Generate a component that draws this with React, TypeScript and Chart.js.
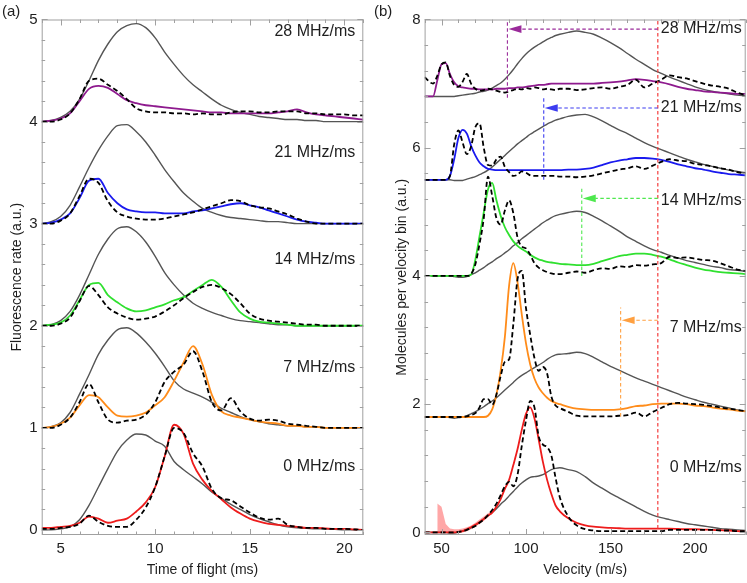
import { useEffect, useRef } from "react";
import { Chart, registerables } from "chart.js";

Chart.register(...registerables);

const FONT = "'Liberation Sans', Arial, Helvetica, sans-serif";
Chart.defaults.font.family = FONT;

// ---- panel (a): time of flight ----
const TOF = [4, 4.5, 5, 5.5, 6, 6.5, 7, 7.5, 8, 8.5, 9, 9.5, 10, 10.5, 11, 11.5, 12, 12.5, 13, 13.5, 14, 14.5, 15, 15.5, 16, 16.5, 17, 17.5, 18, 18.5, 19, 19.5, 20, 20.5, 21];

const TOF_GRAY_0 = [0, 0, 0.01, 0.03, 0.1, 0.24, 0.42, 0.6, 0.77, 0.88, 0.94, 0.93, 0.87, 0.82, 0.67, 0.59, 0.52, 0.45, 0.37, 0.31, 0.25, 0.2, 0.15, 0.11, 0.08, 0.05, 0.03, 0.02, 0.015, 0.01, 0.01, 0.005, 0, 0, 0];
const TOF_RED_0 = [0.02, 0.02, 0.03, 0.04, 0.07, 0.13, 0.11, 0.07, 0.09, 0.11, 0.18, 0.27, 0.42, 0.72, 1.03, 0.94, 0.65, 0.49, 0.38, 0.3, 0.22, 0.16, 0.11, 0.08, 0.06, 0.05, 0.04, 0.03, 0.02, 0.02, 0.015, 0.01, 0.01, 0.005, 0];
const TOF_SIM_0 = [0.01, 0.01, 0.02, 0.03, 0.06, 0.14, 0.08, 0.04, 0.03, 0.03, 0.1, 0.22, 0.42, 0.72, 1.0, 0.95, 0.75, 0.62, 0.4, 0.31, 0.29, 0.23, 0.17, 0.12, 0.1, 0.11, 0.05, 0.03, 0.02, 0.02, 0.01, 0.01, 0.01, 0.005, 0];

const TOF_GRAY_7 = [1.0, 1.01, 1.05, 1.15, 1.33, 1.52, 1.72, 1.86, 1.96, 1.98, 1.93, 1.84, 1.73, 1.6, 1.46, 1.38, 1.34, 1.3, 1.25, 1.19, 1.15, 1.11, 1.08, 1.06, 1.04, 1.03, 1.02, 1.02, 1.01, 1.01, 1.0, 1.0, 1.0, 1.0, 1.0];
const TOF_ORANGE_7 = [1.0, 1.01, 1.04, 1.1, 1.22, 1.32, 1.3, 1.2, 1.12, 1.11, 1.12, 1.15, 1.22, 1.3, 1.46, 1.64, 1.8, 1.62, 1.32, 1.16, 1.12, 1.1, 1.08, 1.06, 1.05, 1.04, 1.02, 1.02, 1.01, 1.01, 1.0, 1.0, 1.0, 1.0, 1.0];
const TOF_SIM_7 = [1.0, 1.0, 1.03, 1.1, 1.25, 1.43, 1.25, 1.08, 1.05, 1.07, 1.08, 1.13, 1.25, 1.45, 1.55, 1.62, 1.75, 1.55, 1.25, 1.17, 1.29, 1.16, 1.09, 1.07, 1.08, 1.07, 1.04, 1.03, 1.02, 1.01, 1.0, 1.0, 1.0, 1.0, 1.0];

const TOF_GRAY_14 = [2.0, 2.01, 2.05, 2.14, 2.3, 2.5, 2.7, 2.85, 2.95, 2.97, 2.92, 2.82, 2.68, 2.52, 2.4, 2.3, 2.22, 2.17, 2.13, 2.1, 2.07, 2.05, 2.04, 2.03, 2.02, 2.01, 2.01, 2.0, 2.0, 2.0, 2.0, 2.0, 2.0, 2.0, 2.0];
const TOF_GREEN_14 = [2.0, 2.01, 2.03, 2.1, 2.25, 2.4, 2.42, 2.3, 2.23, 2.17, 2.14, 2.15, 2.18, 2.21, 2.25, 2.28, 2.34, 2.4, 2.45, 2.38, 2.25, 2.13, 2.07, 2.04, 2.03, 2.02, 2.01, 2.0, 2.0, 2.0, 2.0, 2.0, 2.0, 2.0, 2.0];
const TOF_SIM_14 = [2.0, 2.0, 2.02, 2.08, 2.24, 2.39, 2.3, 2.18, 2.12, 2.08, 2.06, 2.07, 2.09, 2.14, 2.2, 2.27, 2.33, 2.38, 2.4, 2.37, 2.31, 2.22, 2.12, 2.07, 2.05, 2.04, 2.03, 2.02, 2.01, 2.01, 2.0, 2.0, 2.0, 2.0, 2.0];

const TOF_GRAY_21 = [3.0, 3.02, 3.07, 3.18, 3.36, 3.55, 3.72, 3.86, 3.96, 3.97, 3.9, 3.8, 3.67, 3.53, 3.41, 3.3, 3.22, 3.15, 3.11, 3.08, 3.06, 3.05, 3.04, 3.03, 3.02, 3.02, 3.01, 3.0, 3.0, 3.0, 3.0, 3.0, 3.0, 3.0, 3.0];
const TOF_BLUE_21 = [3.0, 3.01, 3.04, 3.1, 3.25, 3.42, 3.44, 3.3, 3.2, 3.14, 3.12, 3.11, 3.11, 3.1, 3.1, 3.1, 3.12, 3.13, 3.15, 3.17, 3.19, 3.2, 3.18, 3.16, 3.13, 3.1, 3.07, 3.04, 3.02, 3.01, 3.0, 3.0, 3.0, 3.0, 3.0];
const TOF_SIM_21 = [3.0, 3.0, 3.03, 3.1, 3.27, 3.44, 3.4, 3.22, 3.11, 3.07, 3.05, 3.04, 3.04, 3.05, 3.07, 3.09, 3.11, 3.14, 3.17, 3.2, 3.23, 3.22, 3.18, 3.16, 3.15, 3.12, 3.09, 3.05, 3.02, 3.0, 3.0, 3.0, 3.0, 3.0, 3.0];

const TOF_GRAY_28 = [4.0, 4.01, 4.04, 4.1, 4.22, 4.4, 4.6, 4.76, 4.88, 4.94, 4.96, 4.92, 4.82, 4.68, 4.56, 4.45, 4.36, 4.29, 4.22, 4.16, 4.12, 4.09, 4.07, 4.05, 4.04, 4.03, 4.02, 4.02, 4.01, 4.01, 4.0, 4.0, 4.0, 4.0, 4.0];
const TOF_PURPLE_28 = [4.0, 4.01, 4.03, 4.08, 4.2, 4.32, 4.35, 4.33, 4.27, 4.21, 4.18, 4.16, 4.15, 4.14, 4.13, 4.12, 4.11, 4.1, 4.09, 4.09, 4.08, 4.08, 4.08, 4.08, 4.08, 4.09, 4.1, 4.12, 4.09, 4.07, 4.06, 4.05, 4.04, 4.03, 4.02];
const TOF_SIM_28 = [4.0, 4.0, 4.02, 4.08, 4.22, 4.4, 4.42, 4.36, 4.3, 4.22, 4.13, 4.1, 4.09, 4.09, 4.08, 4.08, 4.07, 4.08, 4.07, 4.07, 4.09, 4.1, 4.1, 4.09, 4.09, 4.1, 4.1, 4.1, 4.08, 4.08, 4.07, 4.07, 4.07, 4.06, 4.06];

const TOF_TICKS = [5, 10, 15, 20];
const RATE_TICKS = [0, 1, 2, 3, 4, 5];

// ---- panel (b): velocity ----
const VEL = [40, 45, 47.5, 50, 52.5, 55, 57.5, 60, 62.5, 65, 67.5, 70, 72.5, 75, 77.5, 80, 82.5, 85, 87.5, 90, 92.5, 95, 97.5, 100, 102.5, 105, 107.5, 110, 112.5, 115, 117.5, 120, 125, 130, 135, 140, 145, 150, 155, 160, 165, 170, 175, 180, 185, 190, 195, 200, 205, 210, 215, 220, 225, 230];

const VEL_GRAY_0 = [0, 0, 0, 0, 0, -0.01, -0.01, 0, 0.02, 0.04, 0.07, 0.11, 0.16, 0.21, 0.26, 0.31, 0.37, 0.44, 0.5, 0.57, 0.64, 0.71, 0.77, 0.82, 0.86, 0.87, 0.88, 0.9, 0.94, 0.98, 1.0, 1.01, 0.98, 0.95, 0.87, 0.77, 0.69, 0.61, 0.54, 0.47, 0.4, 0.33, 0.27, 0.23, 0.2, 0.17, 0.14, 0.12, 0.1, 0.08, 0.06, 0.05, 0.04, 0.03];
const VEL_RED_0 = [0, 0, 0, 0, 0, 0, 0, 0.01, 0.02, 0.05, 0.08, 0.12, 0.16, 0.21, 0.26, 0.31, 0.4, 0.52, 0.68, 0.82, 1.05, 1.3, 1.6, 1.85, 1.95, 1.78, 1.45, 1.1, 0.82, 0.6, 0.42, 0.33, 0.22, 0.15, 0.11, 0.09, 0.08, 0.07, 0.065, 0.06, 0.06, 0.06, 0.06, 0.06, 0.06, 0.055, 0.05, 0.05, 0.045, 0.04, 0.035, 0.03, 0.02, 0.015];
const VEL_SIM_0 = [0, 0, 0, 0, 0, 0, 0, 0.01, 0.02, 0.04, 0.07, 0.1, 0.15, 0.2, 0.27, 0.35, 0.45, 0.58, 0.72, 0.79, 0.72, 0.9, 1.35, 1.75, 2.05, 1.95, 1.5, 1.37, 1.33, 1.2, 0.85, 0.55, 0.25, 0.11, 0.05, 0.03, 0.02, 0.02, 0.02, 0.02, 0.02, 0.02, 0.02, 0.02, 0.04, 0.04, 0.04, 0.04, 0.04, 0.04, 0.03, 0.03, 0.02, 0.02];

const VEL_GRAY_7 = [1.8, 1.8, 1.8, 1.8, 1.8, 1.79, 1.78, 1.79, 1.8, 1.82, 1.85, 1.88, 1.92, 1.96, 2.01, 2.05, 2.1, 2.16, 2.22, 2.28, 2.34, 2.4, 2.45, 2.49, 2.53, 2.57, 2.61, 2.65, 2.7, 2.74, 2.77, 2.78, 2.79, 2.81, 2.79, 2.73, 2.66, 2.59, 2.53, 2.47, 2.41, 2.36, 2.31, 2.26, 2.21, 2.16, 2.11, 2.07, 2.03, 2.0, 1.97, 1.94, 1.91, 1.89];
const VEL_ORANGE_7 = [1.8, 1.8, 1.8, 1.8, 1.8, 1.8, 1.8, 1.8, 1.8, 1.8, 1.8, 1.8, 1.8, 1.8, 1.82, 1.92, 2.15, 2.52, 3.05, 3.85, 4.2, 3.9, 3.4, 2.95, 2.62, 2.4, 2.26, 2.17, 2.1, 2.05, 2.02, 2.0, 1.96, 1.93, 1.92, 1.91, 1.91, 1.91, 1.92, 1.94, 1.97, 1.98, 2.0, 2.01, 2.01, 2.01, 2.0, 1.98, 1.97, 1.95, 1.93, 1.92, 1.9, 1.89];
const VEL_SIM_7 = [1.8, 1.8, 1.8, 1.8, 1.8, 1.8, 1.8, 1.8, 1.8, 1.81, 1.83, 1.86, 1.95, 2.08, 2.08, 1.99, 2.15, 2.44, 2.66, 2.7, 3.25, 3.95, 4.08, 3.5, 3.08, 2.72, 2.52, 2.58, 2.48, 2.12, 1.98, 1.94, 1.88, 1.82, 1.81, 1.81, 1.81, 1.81, 1.82, 1.83, 1.87, 1.81, 1.88, 1.94, 2.0, 2.02, 2.01, 2.0, 1.99, 1.97, 1.95, 1.93, 1.91, 1.89];

const VEL_GRAY_14 = [4.0, 4.0, 4.0, 4.0, 4.0, 4.0, 3.99, 3.98, 3.98, 3.99, 4.02, 4.05, 4.09, 4.13, 4.18, 4.22, 4.27, 4.31, 4.36, 4.41, 4.47, 4.52, 4.58, 4.63, 4.68, 4.73, 4.78, 4.83, 4.87, 4.91, 4.94, 4.96, 4.99, 5.01, 4.99, 4.93, 4.86, 4.78, 4.7, 4.61, 4.54, 4.47, 4.41, 4.37, 4.32, 4.28, 4.24, 4.21, 4.18, 4.15, 4.13, 4.1, 4.09, 4.07];
const VEL_GREEN_14 = [4.0, 4.0, 4.0, 4.0, 4.0, 4.0, 4.0, 4.0, 4.0, 4.0, 4.02, 4.25, 4.62, 4.99, 5.35, 5.45, 5.18, 4.94, 4.76, 4.64, 4.54, 4.47, 4.42, 4.38, 4.33, 4.29, 4.26, 4.24, 4.22, 4.21, 4.2, 4.19, 4.18, 4.17, 4.17, 4.19, 4.23, 4.27, 4.31, 4.33, 4.35, 4.35, 4.33, 4.3, 4.26, 4.21, 4.17, 4.13, 4.1, 4.08, 4.06, 4.05, 4.04, 4.03];
const VEL_SIM_14 = [4.0, 4.0, 4.0, 4.0, 4.0, 4.0, 4.0, 4.0, 4.0, 4.0, 4.03, 4.18, 4.5, 4.9, 5.55, 5.25, 4.9, 4.8, 5.02, 5.18, 4.98, 4.6, 4.46, 4.43, 4.33, 4.2, 4.13, 4.09, 4.06, 4.04, 4.03, 4.03, 4.05, 4.07, 4.05, 4.09, 4.12, 4.11, 4.15, 4.14, 4.17, 4.16, 4.18, 4.2, 4.3, 4.28, 4.29, 4.27, 4.25, 4.24, 4.2, 4.15, 4.1, 4.08];

const VEL_GRAY_21 = [5.5, 5.5, 5.5, 5.5, 5.5, 5.5, 5.49, 5.49, 5.49, 5.51, 5.53, 5.55, 5.58, 5.61, 5.65, 5.7, 5.76, 5.82, 5.88, 5.94, 6.0, 6.06, 6.11, 6.16, 6.21, 6.25, 6.29, 6.33, 6.37, 6.4, 6.43, 6.45, 6.49, 6.51, 6.52, 6.48, 6.42, 6.35, 6.28, 6.22, 6.15, 6.08, 6.02, 5.97, 5.92, 5.87, 5.82, 5.78, 5.74, 5.71, 5.68, 5.65, 5.63, 5.61];
const VEL_BLUE_21 = [5.5, 5.5, 5.5, 5.5, 5.5, 5.56, 5.82, 6.15, 6.28, 6.22, 6.03, 5.88, 5.77, 5.71, 5.67, 5.66, 5.65, 5.65, 5.65, 5.65, 5.65, 5.65, 5.65, 5.65, 5.65, 5.65, 5.65, 5.65, 5.65, 5.65, 5.65, 5.65, 5.66, 5.66, 5.67, 5.69, 5.73, 5.77, 5.8, 5.82, 5.84, 5.84, 5.83, 5.81, 5.78, 5.74, 5.71, 5.68, 5.66, 5.63, 5.61, 5.59, 5.58, 5.57];
const VEL_SIM_21 = [5.5, 5.5, 5.5, 5.5, 5.5, 5.56, 6.05, 6.27, 6.08, 5.9, 6.02, 6.32, 6.38, 6.0, 5.73, 5.72, 5.82, 5.86, 5.7, 5.62, 5.56, 5.58, 5.63, 5.61, 5.57, 5.56, 5.56, 5.56, 5.56, 5.56, 5.56, 5.55, 5.55, 5.54, 5.55, 5.57, 5.6, 5.63, 5.66, 5.68, 5.71, 5.67, 5.72, 5.78, 5.82, 5.8, 5.79, 5.75, 5.73, 5.71, 5.68, 5.66, 5.62, 5.6];

const VEL_GRAY_28 = [6.8, 6.8, 6.8, 6.8, 6.8, 6.8, 6.8, 6.81, 6.82, 6.83, 6.84, 6.85, 6.87, 6.88, 6.9, 6.93, 6.97, 7.01, 7.07, 7.14, 7.22, 7.31, 7.39, 7.46, 7.52, 7.57, 7.61, 7.65, 7.69, 7.72, 7.75, 7.77, 7.8, 7.82, 7.8, 7.77, 7.71, 7.64, 7.56, 7.47, 7.38, 7.3, 7.22, 7.16, 7.1, 7.05, 7.0, 6.95, 6.91, 6.88, 6.86, 6.84, 6.82, 6.81];
const VEL_PURPLE_28 = [6.8, 6.8, 7.05, 7.3, 7.32, 7.15, 7.02, 6.96, 6.94, 6.93, 6.92, 6.92, 6.91, 6.91, 6.91, 6.91, 6.92, 6.92, 6.92, 6.93, 6.93, 6.94, 6.94, 6.95, 6.96, 6.97, 6.98, 6.98, 6.99, 7.0, 7.0, 7.0, 7.0, 7.0, 7.0, 7.0, 7.01, 7.02, 7.03, 7.05, 7.07, 7.06, 7.04, 7.02, 6.99, 6.95, 6.92, 6.9, 6.88, 6.87, 6.86, 6.85, 6.84, 6.84];
const VEL_SIM_28 = [7.1, 7.0, 7.12, 7.3, 7.33, 7.12, 6.98, 6.95, 7.03, 7.15, 7.0, 6.92, 6.89, 6.9, 6.92, 6.91, 6.89, 6.87, 6.86, 6.88, 6.9, 6.92, 6.91, 6.93, 6.92, 6.94, 6.93, 6.91, 6.92, 6.91, 6.9, 6.92, 6.92, 6.9, 6.91, 6.93, 6.94, 6.92, 6.95, 6.98, 7.06, 6.94, 7.0, 7.06, 7.13, 7.1, 7.08, 7.04, 7.0, 6.97, 6.95, 6.92, 6.86, 6.82];

// pink uncertainty band at the low-velocity end of the 0 MHz/ms curve
const BAND_VEL = [47.5, 50, 52.5, 55, 57.5, 60, 62.5, 65, 67.5, 70, 72.5, 75, 77.5, 80];
const BAND_HIGH = [0.45, 0.4, 0.13, 0.06, 0.05, 0.05, 0.06, 0.08, 0.11, 0.15, 0.2, 0.25, 0.3, 0.34];
const BAND_LOW = [0, 0, 0, 0, -0.01, -0.01, 0, 0.02, 0.05, 0.09, 0.13, 0.18, 0.24, 0.3];

// final velocity of the unslowed cut, and where each sweep moves it
const CUT_VEL = 178;
const CUT_RANGE = [0.06, 8];
const SLOWED_VEL = [89, 110.5, 133, 156];
const ARROW_LEVEL = [7.85, 6.62, 5.21, 3.31];
const MARKER_TOP = [7.96, 6.78, 5.36, 3.51];
const MARKER_BASE = [6.78, 5.5, 4.0, 1.81];

const VEL_TICKS = [50, 100, 150, 200];
const MOL_TICKS = [0, 2, 4, 6, 8];

const SWEEPS = ["28 MHz/ms", "21 MHz/ms", "14 MHz/ms", "7 MHz/ms", "0 MHz/ms"];
const LEFT_LABEL_Y = [4.88, 3.7, 2.65, 1.59, 0.62];
const RIGHT_LABEL_Y = [7.86, 6.62, 5.17, 3.2, 1.01];

const GRAY = "#555555";
const PURPLE = "#8e1a8e";
const BLUE = "#1a1aee";
const GREEN = "#2fe02f";
const ORANGE = "#ff8c1a";
const RED = "#ee1c1c";
const ARROW_COLORS = ["#9a2a9a", "#3c3cf0", "#4ee84e", "#ffa040"];
const CUT_COLOR = "#f43c3c";
const FRAME = "#a0a0a0";
const INK = "#1e1e1e";

const pts = (xs: number[], ys: number[]) => xs.map((x, i) => ({ x, y: ys[i] }));

function curve(xs: number[], ys: number[], color: string, width: number, dash: number[] = []) {
  return {
    data: pts(xs, ys),
    borderColor: color,
    borderWidth: width,
    borderDash: dash,
    pointRadius: 0,
    cubicInterpolationMode: "monotone" as const,
    fill: false,
  };
}

function framePlugin(xStep: number, yStep: number, xMajor: number[], yMajor: number[]) {
  return {
    id: "frame",
    afterDraw(chart: any) {
      const { ctx, chartArea: a } = chart;
      const x = chart.scales.x;
      const y = chart.scales.y;
      ctx.save();
      ctx.strokeStyle = FRAME;
      ctx.lineWidth = 1;
      ctx.beginPath();
      const xMin = Math.ceil(x.min / xStep) * xStep;
      for (let v = xMin; v <= x.max + 1e-9; v += xStep) {
        const major = xMajor.some((m) => Math.abs(m - v) < 1e-6);
        const len = major ? 6 : 3.5;
        const px = Math.round(x.getPixelForValue(v)) + 0.5;
        ctx.moveTo(px, a.bottom);
        ctx.lineTo(px, a.bottom - len);
        ctx.moveTo(px, a.top);
        ctx.lineTo(px, a.top + len);
      }
      const yMin = Math.ceil(y.min / yStep - 1e-9) * yStep;
      for (let v = yMin; v <= y.max + 1e-9; v += yStep) {
        const major = yMajor.some((m) => Math.abs(m - v) < 1e-6);
        const len = major ? 6 : 3.5;
        const py = Math.round(y.getPixelForValue(v)) + 0.5;
        ctx.moveTo(a.left, py);
        ctx.lineTo(a.left + len, py);
        ctx.moveTo(a.right, py);
        ctx.lineTo(a.right - len, py);
      }
      ctx.stroke();
      ctx.strokeRect(a.left + 0.5, a.top + 0.5, a.right - a.left - 1, a.bottom - a.top - 1);
      ctx.restore();
    },
  };
}

function notesPlugin(labels: string[], ys: number[], inset: number, letter: string, letterX: number) {
  return {
    id: "notes",
    afterDraw(chart: any) {
      const { ctx, chartArea: a } = chart;
      const y = chart.scales.y;
      ctx.save();
      ctx.fillStyle = INK;
      ctx.font = `16px ${FONT}`;
      ctx.textAlign = "right";
      ctx.textBaseline = "middle";
      labels.forEach((t, i) => ctx.fillText(t, a.right - inset, y.getPixelForValue(ys[i])));
      ctx.textAlign = "left";
      ctx.font = `15px ${FONT}`;
      ctx.fillText(letter, letterX, 12);
      ctx.restore();
    },
  };
}

const arrowPlugin = {
  id: "arrows",
  afterDatasetsDraw(chart: any) {
    const { ctx } = chart;
    const x = chart.scales.x;
    const y = chart.scales.y;
    ctx.save();
    SLOWED_VEL.forEach((v, i) => {
      const px = x.getPixelForValue(v) + 1;
      const py = y.getPixelForValue(ARROW_LEVEL[i]);
      ctx.fillStyle = ARROW_COLORS[i];
      ctx.beginPath();
      ctx.moveTo(px, py);
      ctx.lineTo(px + 13, py - 3.8);
      ctx.lineTo(px + 13, py + 3.8);
      ctx.closePath();
      ctx.fill();
    });
    ctx.restore();
  },
};

function axes(xMin: number, xMax: number, yMin: number, yMax: number, xTicks: number[], yTicks: number[], xTitle: string, yTitle: string, yWidth: number, yTitlePad: number) {
  const tickFont = { size: 15, family: FONT };
  const titleFont = { size: 14, family: FONT };
  return {
    x: {
      type: "linear" as const,
      min: xMin,
      max: xMax,
      grid: { display: false, drawTicks: false },
      border: { display: false },
      ticks: { font: tickFont, color: INK, padding: 5, maxRotation: 0 },
      afterBuildTicks: (s: any) => { s.ticks = xTicks.map((value) => ({ value })); },
      afterFit: (s: any) => { s.height = 48; },
      title: { display: true, text: xTitle, font: titleFont, color: INK, padding: { top: 0, bottom: 4 } },
    },
    y: {
      type: "linear" as const,
      min: yMin,
      max: yMax,
      grid: { display: false, drawTicks: false },
      border: { display: false },
      ticks: { font: tickFont, color: INK, padding: 4 },
      afterBuildTicks: (s: any) => { s.ticks = yTicks.map((value) => ({ value })); },
      afterFit: (s: any) => { s.width = yWidth; },
      title: { display: true, text: yTitle, font: titleFont, color: INK, padding: { top: yTitlePad, bottom: 0 } },
    },
  };
}

const BASE_OPTIONS = {
  animation: false as const,
  responsive: false,
  maintainAspectRatio: false,
  events: [] as any[],
  plugins: { legend: { display: false }, tooltip: { enabled: false } },
};

function tofConfig(): any {
  const solid = 1.8;
  const dash = [5, 3];
  return {
    type: "line",
    data: {
      datasets: [
        curve(TOF, TOF_SIM_28, "#000", solid, dash),
        curve(TOF, TOF_SIM_21, "#000", solid, dash),
        curve(TOF, TOF_SIM_14, "#000", solid, dash),
        curve(TOF, TOF_SIM_7, "#000", solid, dash),
        curve(TOF, TOF_SIM_0, "#000", solid, dash),
        curve(TOF, TOF_PURPLE_28, PURPLE, solid),
        curve(TOF, TOF_BLUE_21, BLUE, solid),
        curve(TOF, TOF_GREEN_14, GREEN, solid),
        curve(TOF, TOF_ORANGE_7, ORANGE, solid),
        curve(TOF, TOF_RED_0, RED, solid),
        curve(TOF, TOF_GRAY_28, GRAY, 1.4),
        curve(TOF, TOF_GRAY_21, GRAY, 1.4),
        curve(TOF, TOF_GRAY_14, GRAY, 1.4),
        curve(TOF, TOF_GRAY_7, GRAY, 1.4),
        curve(TOF, TOF_GRAY_0, GRAY, 1.4),
      ],
    },
    options: {
      ...BASE_OPTIONS,
      layout: { padding: { top: 19.5, right: 6.7, left: 0, bottom: 0 } },
      scales: axes(4, 21, -0.05, 5, TOF_TICKS, RATE_TICKS, "Time of flight (ms)", "Fluorescence rate (a.u.)", 41.7, 9),
    },
    plugins: [framePlugin(1, 0.2, TOF_TICKS, RATE_TICKS), notesPlugin(SWEEPS, LEFT_LABEL_Y, 8, "(a)", 2)],
  };
}

function velConfig(): any {
  const solid = 1.8;
  const dash = [5, 3];
  const thin = [3.5, 2.5];
  const markers = SLOWED_VEL.flatMap((v, i) => [
    { ...curve([v, v], [MARKER_BASE[i], MARKER_TOP[i]], ARROW_COLORS[i], 1.1, thin), cubicInterpolationMode: "default" },
    { ...curve([CUT_VEL, v + 8], [ARROW_LEVEL[i], ARROW_LEVEL[i]], ARROW_COLORS[i], 1.1, thin), cubicInterpolationMode: "default" },
  ]);
  return {
    type: "line",
    data: {
      datasets: [
        ...markers,
        { ...curve([CUT_VEL, CUT_VEL], CUT_RANGE, CUT_COLOR, 1.2, thin), cubicInterpolationMode: "default" },
        curve(VEL, VEL_SIM_28, "#000", solid, dash),
        curve(VEL, VEL_SIM_21, "#000", solid, dash),
        curve(VEL, VEL_SIM_14, "#000", solid, dash),
        curve(VEL, VEL_SIM_7, "#000", solid, dash),
        curve(VEL, VEL_SIM_0, "#000", solid, dash),
        curve(VEL, VEL_PURPLE_28, PURPLE, solid),
        curve(VEL, VEL_BLUE_21, BLUE, solid),
        curve(VEL, VEL_GREEN_14, GREEN, solid),
        curve(VEL, VEL_ORANGE_7, ORANGE, solid),
        curve(VEL, VEL_RED_0, RED, solid),
        curve(VEL, VEL_GRAY_28, GRAY, 1.4),
        curve(VEL, VEL_GRAY_21, GRAY, 1.4),
        curve(VEL, VEL_GRAY_14, GRAY, 1.4),
        curve(VEL, VEL_GRAY_7, GRAY, 1.4),
        curve(VEL, VEL_GRAY_0, GRAY, 1.4),
        { ...curve(BAND_VEL, BAND_LOW, "rgba(0,0,0,0)", 0), cubicInterpolationMode: "default" },
        {
          ...curve(BAND_VEL, BAND_HIGH, "rgba(0,0,0,0)", 0),
          cubicInterpolationMode: "default",
          fill: "-1",
          backgroundColor: "rgba(255,120,120,0.65)",
        },
      ],
    },
    options: {
      ...BASE_OPTIONS,
      layout: { padding: { top: 19.5, right: 1.3, left: 0, bottom: 0 } },
      scales: axes(40, 230, -0.04, 8, VEL_TICKS, MOL_TICKS, "Velocity (m/s)", "Molecules per velocity bin (a.u.)", 54.6, 24),
    },
    plugins: [framePlugin(10, 0.4, VEL_TICKS, MOL_TICKS), notesPlugin(SWEEPS, RIGHT_LABEL_Y, 4, "(b)", 4), arrowPlugin],
  };
}

export default function App() {
  const tofRef = useRef<HTMLCanvasElement | null>(null);
  const velRef = useRef<HTMLCanvasElement | null>(null);

  useEffect(() => {
    if (!tofRef.current || !velRef.current) return;
    const a = new Chart(tofRef.current, tofConfig());
    const b = new Chart(velRef.current, velConfig());
    return () => {
      a.destroy();
      b.destroy();
    };
  }, []);

  return (
    <div style={{ position: "fixed", left: 0, top: 0, width: 747, height: 583, background: "#fff" }}>
      <canvas ref={tofRef} width={370} height={583} style={{ position: "absolute", left: 0, top: 0, width: 370, height: 583 }} />
      <canvas ref={velRef} width={377} height={583} style={{ position: "absolute", left: 370, top: 0, width: 377, height: 583 }} />
    </div>
  );
}
